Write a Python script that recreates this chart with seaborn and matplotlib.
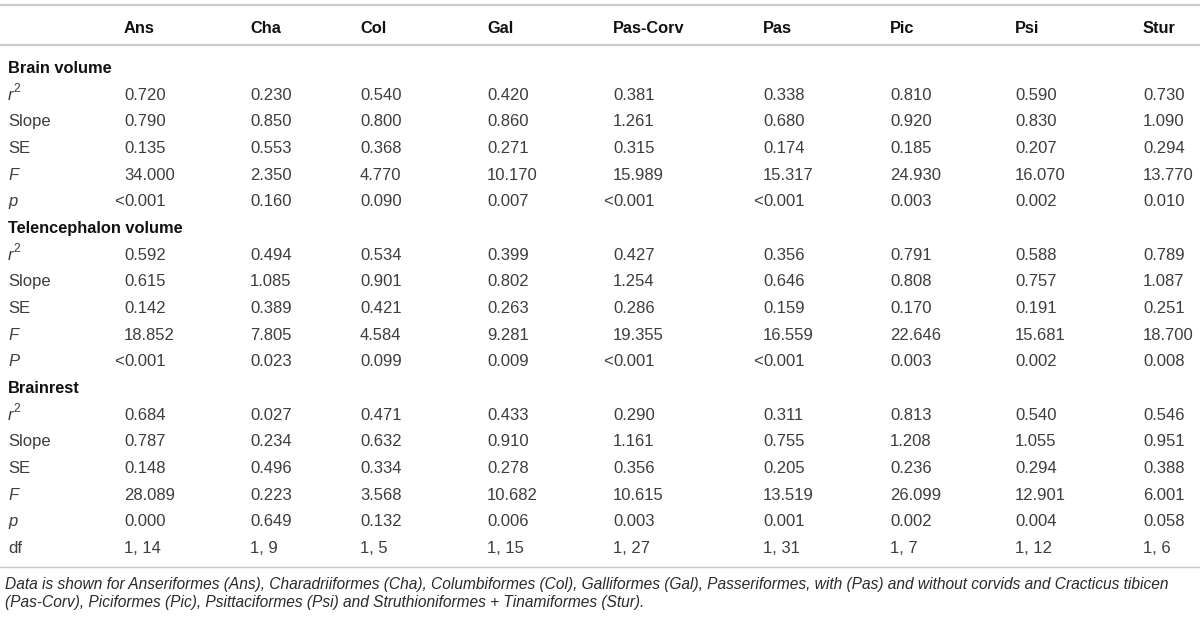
import matplotlib
matplotlib.use("Agg")
import matplotlib.pyplot as plt
import seaborn as sns

# column headers and stats per block
orders = ["Ans", "Cha", "Col", "Gal", "Pas-Corv", "Pas", "Pic", "Psi", "Stur"]

brain_r2 = [0.720, 0.230, 0.540, 0.420, 0.381, 0.338, 0.810, 0.590, 0.730]
brain_slope = [0.790, 0.850, 0.800, 0.860, 1.261, 0.680, 0.920, 0.830, 1.090]
brain_se = [0.135, 0.553, 0.368, 0.271, 0.315, 0.174, 0.185, 0.207, 0.294]
brain_f = [34.000, 2.350, 4.770, 10.170, 15.989, 15.317, 24.930, 16.070, 13.770]
brain_p = ["<0.001", "0.160", "0.090", "0.007", "<0.001", "<0.001", "0.003", "0.002", "0.010"]

tel_r2 = [0.592, 0.494, 0.534, 0.399, 0.427, 0.356, 0.791, 0.588, 0.789]
tel_slope = [0.615, 1.085, 0.901, 0.802, 1.254, 0.646, 0.808, 0.757, 1.087]
tel_se = [0.142, 0.389, 0.421, 0.263, 0.286, 0.159, 0.170, 0.191, 0.251]
tel_f = [18.852, 7.805, 4.584, 9.281, 19.355, 16.559, 22.646, 15.681, 18.700]
tel_p = ["<0.001", "0.023", "0.099", "0.009", "<0.001", "<0.001", "0.003", "0.002", "0.008"]

rest_r2 = [0.684, 0.027, 0.471, 0.433, 0.290, 0.311, 0.813, 0.540, 0.546]
rest_slope = [0.787, 0.234, 0.632, 0.910, 1.161, 0.755, 1.208, 1.055, 0.951]
rest_se = [0.148, 0.496, 0.334, 0.278, 0.356, 0.205, 0.236, 0.294, 0.388]
rest_f = [28.089, 0.223, 3.568, 10.682, 10.615, 13.519, 26.099, 12.901, 6.001]
rest_p = ["0.000", "0.649", "0.132", "0.006", "0.003", "0.001", "0.002", "0.004", "0.058"]
rest_df = ["1, 14", "1, 9", "1, 5", "1, 15", "1, 27", "1, 31", "1, 7", "1, 12", "1, 6"]

footnote = [
    "Data is shown for Anseriformes (Ans), Charadriiformes (Cha), Columbiformes (Col), "
    "Galliformes (Gal), Passeriformes, with (Pas) and without corvids and Cracticus tibicen",
    "(Pas-Corv), Piciformes (Pic), Psittaciformes (Psi) and Struthioniformes + Tinamiformes (Stur).",
]


def fmt(vals):
    return [v if isinstance(v, str) else f"{v:.3f}" for v in vals]


# rows: (label, style, values) ; values None -> section heading
rows = [
    ("Brain volume", "head", None),
    ("r", "r2", fmt(brain_r2)),
    ("Slope", "normal", fmt(brain_slope)),
    ("SE", "normal", fmt(brain_se)),
    ("F", "italic", fmt(brain_f)),
    ("p", "italic", brain_p),
    ("Telencephalon volume", "head", None),
    ("r", "r2", fmt(tel_r2)),
    ("Slope", "normal", fmt(tel_slope)),
    ("SE", "normal", fmt(tel_se)),
    ("F", "italic", fmt(tel_f)),
    ("P", "italic", tel_p),
    ("Brainrest", "head", None),
    ("r", "r2", fmt(rest_r2)),
    ("Slope", "normal", fmt(rest_slope)),
    ("SE", "normal", fmt(rest_se)),
    ("F", "italic", fmt(rest_f)),
    ("p", "italic", rest_p),
    ("df", "normal", rest_df),
]

sns.set_theme(style="white")
plt.rcParams["font.family"] = ["Liberation Sans", "DejaVu Sans"]

fig = plt.figure(figsize=(12, 6.18), dpi=100)
ax = fig.add_axes([0, 0, 1, 1])
ax.set_xlim(0, 1200)
ax.set_ylim(618, 0)
ax.set_axis_off()

col_x = [124, 250, 360, 487, 613, 763, 890, 1015, 1143]
label_x = 8
row0, row_h = 67, 26.67
fs = 12
head_fs = 11.8
val_color = "#3d3d3d"
head_color = "#111111"
line_color = "#c9c9c9"
cap = 6.0  # half cap height in px, to set baseline from row centre

# rules
ax.axhline(5, color=line_color, lw=1.6)
ax.axhline(45, color=line_color, lw=1.6)
ax.axhline(567, color=line_color, lw=1.0)

# column headers
for x, name in zip(col_x, orders):
    ax.text(x, 27 + cap, name, ha="left", va="baseline", fontsize=head_fs,
            fontweight="bold", color=head_color)

for i, (label, style, vals) in enumerate(rows):
    yc = row0 + i * row_h
    y = yc + cap
    if style == "head":
        ax.text(label_x, y, label, ha="left", va="baseline", fontsize=head_fs,
                fontweight="bold", color=head_color)
        continue
    ax.text(label_x, y, label, ha="left", va="baseline", fontsize=fs, color=val_color,
            fontstyle="normal" if style == "normal" else "italic")
    if style == "r2":
        ax.text(label_x + 5.5, yc - 1.5, "2", ha="left", va="baseline", fontsize=8.8,
                color=val_color)
    for x, v in zip(col_x, vals):
        if v.startswith("<"):
            ax.text(x, y, "<", ha="right", va="baseline", fontsize=fs, color=val_color)
            v = v[1:]
        ax.text(x, y, v, ha="left", va="baseline", fontsize=fs, color=val_color)

# footnote
for j, line in enumerate(footnote):
    ax.text(5, 583 + j * 19 + 5.5, line, ha="left", va="baseline", fontsize=11.2,
            fontstyle="italic", color="#2a2a2a")

plt.savefig("out.png", dpi=100)
plt.close()
